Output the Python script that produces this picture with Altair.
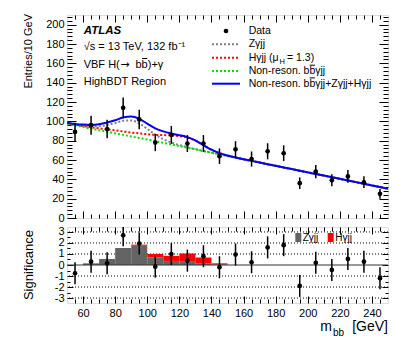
import altair as alt
import pandas as pd

FONT = "Liberation Sans"

# ---------------- data ----------------
bin_centers = [55, 65, 75, 85, 95, 105, 115, 125, 135, 145, 155, 165, 175, 185, 195, 205, 215, 225, 235, 245]
entries = [89, 96, 92, 114, 102, 78, 86, 77, 77, 64, 71, 61, 69, 67, 36, 48, 39, 43, 37, 25]
significance = [-0.75, 0.3, 0.15, 2.7, 1.95, -0.15, 1.0, 0.4, 0.8, -0.2, 0.95, 0.25, 1.6, 1.8, -1.9, 0.2, -0.45, 0.55, 0.3, -1.2]
significance_err = [1.0, 1.0, 1.0, 1.0, 1.0, 1.0, 1.0, 1.0, 1.0, 1.0, 1.0, 1.0, 1.0, 1.0, 1.0, 1.0, 1.0, 1.0, 1.0, 1.0]

curve_mass = [50, 55, 60, 65, 70, 75, 80, 85, 90, 95, 100, 105, 110, 115, 120, 125, 130, 135, 140, 145,
              150, 155, 160, 165, 170, 175, 180, 185, 190, 195, 200, 205, 210, 215, 220, 225, 230, 235, 240, 245, 250]
bkg_curve = [97.5, 95.8, 94.1, 92.4, 90.8, 89.2, 87.6, 86.0, 84.4, 82.8, 81.2, 79.5, 77.8, 76.1, 74.4, 72.7, 71.0, 69.3, 67.6, 65.9,
             64.2, 62.5, 60.8, 59.1, 57.4, 55.7, 54.0, 52.3, 50.6, 48.9, 47.2, 45.6, 43.9, 42.2, 40.5, 38.8, 37.1, 35.4, 33.7, 32.0, 30.3]
z_component = [0.5, 0.8, 1.5, 2.5, 4.2, 7.0, 10.5, 14.5, 16.5, 15.0, 11.0, 6.8, 3.8, 2.0, 1.0, 0.5, 0.25, 0.1, 0.05, 0.0,
               0.0, 0.0, 0.0, 0.0, 0.0, 0.0, 0.0, 0.0, 0.0, 0.0, 0.0, 0.0, 0.0, 0.0, 0.0, 0.0, 0.0, 0.0, 0.0, 0.0, 0.0]
h_component = [0.5, 0.7, 1.0, 1.5, 2.0, 2.5, 3.0, 3.5, 4.0, 4.7, 5.5, 6.5, 8.0, 9.3, 10.3, 10.5, 9.0, 6.0, 3.0, 1.2,
               0.4, 0.1, 0.0, 0.0, 0.0, 0.0, 0.0, 0.0, 0.0, 0.0, 0.0, 0.0, 0.0, 0.0, 0.0, 0.0, 0.0, 0.0, 0.0, 0.0, 0.0]

hist_low_edges = [60, 70, 80, 90, 100, 110, 120, 130, 140]
z_signif = [0.15, 0.55, 1.55, 1.75, 0.68, 0.37, 0.30, 0.12, 0.05]
h_signif = [0.0, 0.0, 0.0, 0.10, 0.32, 0.46, 0.75, 0.56, 0.10]

x_tick_labels = [60, 80, 100, 120, 140, 160, 180, 200, 220, 240]
y_tick_labels = [0, 20, 40, 60, 80, 100, 120, 140, 160, 180, 200]
sig_tick_labels = [-3, -2, -1, 0, 1, 2, 3]
sig_grid = [-3, -2, -1, 1, 2, 3]

# ---------------- tables ----------------
curves = pd.DataFrame({
    "mass": curve_mass,
    "bkg": bkg_curve,
    "bkgZ": [b + z for b, z in zip(bkg_curve, z_component)],
    "bkgH": [b + h for b, h in zip(bkg_curve, h_component)],
    "total": [b + z + h for b, z, h in zip(bkg_curve, z_component, h_component)],
})
pts = pd.DataFrame({"m": bin_centers, "n": entries})
pts["lo"] = pts["n"] - pts["n"] ** 0.5
pts["hi"] = pts["n"] + pts["n"] ** 0.5
sig = pd.DataFrame({"m": bin_centers, "s": significance, "e": significance_err})
sig["lo"] = sig["s"] - sig["e"]
sig["hi"] = sig["s"] + sig["e"]
hist = pd.DataFrame({"lo": hist_low_edges, "z": z_signif, "h": h_signif})
hist["hi"] = hist["lo"] + 10
hist["zh"] = hist["z"] + hist["h"]
grid = pd.DataFrame({"v": sig_grid})

W, H1, H2 = 321, 203, 76
xs = alt.Scale(domain=[50, 250], nice=False, zero=False)
ys1 = alt.Scale(domain=[0, 210], nice=False, zero=False)
ys2 = alt.Scale(domain=[-3.45, 3.45], nice=False, zero=False)

x_minor = [v for v in range(55, 250, 5) if v not in x_tick_labels]
y_minor = [v for v in range(4, 210, 4) if v not in y_tick_labels]
sig_minor = [-2.5, -1.5, -0.5, 0.5, 1.5, 2.5]


def tax(orient, values, size, labels=False, pad=3, expr=None):
    kw = dict(orient=orient, values=values, tickSize=size, offset=-size, domain=False, grid=False,
              labels=labels, title=None, ticks=True, tickColor="black", tickWidth=1)
    if labels:
        kw.update(labelFont=FONT, labelFontSize=11, labelColor="black", labelPadding=pad,
                  labelFlush=False, labelOverlap=False)
        if expr:
            kw["labelExpr"] = expr
    return alt.Axis(**kw)


ONE = alt.Data(values=[{}])


def txt(s, x, y, size=11, align="left", baseline="alphabetic", weight="normal", style="normal", angle=0, font=FONT):
    return alt.Chart(ONE).mark_text(text=s, align=align, baseline=baseline, font=font, fontSize=size,
                                    fontWeight=weight, fontStyle=style, angle=angle, color="black").encode(
        x=alt.value(x), y=alt.value(y))


def leg_line(x1, x2, y, color, dash=None, width=2):
    kw = dict(color=color, strokeWidth=width, strokeCap="butt")
    if dash:
        kw["strokeDash"] = dash
    return alt.Chart(ONE).mark_rule(**kw).encode(x=alt.value(x1), x2=alt.value(x2), y=alt.value(y))


def leg_box(x1, x2, y1, y2, color):
    return alt.Chart(ONE).mark_rect(color=color).encode(x=alt.value(x1), x2=alt.value(x2), y=alt.value(y1), y2=alt.value(y2))


def curve(field, color, dash, xa, ya, off=0):
    kw = dict(color=color, strokeWidth=2, interpolate="monotone", clip=True, strokeCap="butt")
    if dash:
        kw["strokeDash"] = dash
        kw["strokeDashOffset"] = off
    return alt.Chart(curves).mark_line(**kw).encode(
        x=alt.X("mass:Q", scale=xs, axis=xa), y=alt.Y(f"{field}:Q", scale=ys1, axis=ya))


# ---------------- upper panel ----------------
upper_layers = [
    curve("bkgZ", "#808080", [2, 2], tax("bottom", x_tick_labels, 7), tax("left", y_tick_labels, 9, labels=True)),
    curve("bkg", "#00e000", [2, 2], tax("bottom", x_minor, 4), tax("left", y_minor, 5)),
    curve("bkgH", "#ff0000", [2, 2], tax("top", x_tick_labels, 7), tax("right", y_tick_labels, 9), off=2),
    curve("total", "#0000ff", None, tax("top", x_minor, 4), tax("right", y_minor, 5)),
    alt.Chart(pts).mark_rule(color="black", strokeWidth=1.5, clip=True).encode(
        x=alt.X("m:Q", scale=xs, axis=None), y=alt.Y("lo:Q", scale=ys1, axis=None), y2="hi:Q"),
    alt.Chart(pts).mark_circle(color="black", size=22, opacity=1).encode(
        x=alt.X("m:Q", scale=xs, axis=None), y=alt.Y("n:Q", scale=ys1, axis=None)),
    # annotations
    txt("ATLAS", 16.7, 18.7, size=11.5, weight="bold", style="italic"),
    txt("\u221as = 13 TeV, 132 fb\u207b\u00b9", 16.7, 35.3),
    txt("VBF H(", 16.7, 52.7),
    txt("\u2192", 53.3, 52.7, size=11, font="DejaVu Sans"),
    txt("bb)+\u03b3", 68.5, 52.7),
    leg_line(75.1, 80.3, 43.5, "black", width=1),
    txt("HighBDT Region", 16.7, 69.7),
    # legend
    alt.Chart(ONE).mark_circle(color="black", size=22, opacity=1).encode(x=alt.value(159), y=alt.value(16)),
    leg_line(145, 173, 29.3, "#808080", [2, 2]),
    leg_line(145, 173, 42.7, "#ff0000", [2, 2]),
    leg_line(145, 173, 56, "#00e000", [2, 2]),
    leg_line(145, 173, 68.7, "#0000ff"),
    txt("Data", 181.7, 16, size=10.5, baseline="middle"),
    txt("Z\u03b3jj", 181.7, 29.3, size=10.5, baseline="middle"),
    txt("H\u03b3jj (\u03bc", 181.7, 42.7, size=10.5, baseline="middle"),
    txt("H", 212.5, 46.5, size=7.5, baseline="middle"),
    txt("= 1.3)", 220, 42.7, size=10.5, baseline="middle"),
    txt("Non-reson. bb\u03b3jj", 181.7, 56, size=10.5, baseline="middle"),
    leg_line(242.7, 247.9, 50.2, "black", width=1),
    txt("Non-reson. bb\u03b3jj+Z\u03b3jj+H\u03b3jj", 181.7, 68.7, size=10.5, baseline="middle"),
    leg_line(242.7, 247.9, 62.9, "black", width=1),
    # y title
    txt("Entries/10 GeV", -35, -1, size=11, align="right", angle=270),
]
upper = alt.layer(*upper_layers).resolve_scale(x="shared", y="shared").resolve_axis(
    x="independent", y="independent").properties(width=W, height=H1)

# ---------------- lower panel ----------------
minus_fix = "toString(datum.value)"
lower_layers = [
    alt.Chart(grid).mark_rule(color="black", strokeWidth=1, strokeDash=[1, 2]).encode(
        y=alt.Y("v:Q", scale=ys2, axis=None)),
    alt.Chart(hist).mark_rect(color="#646464").encode(
        x=alt.X("lo:Q", scale=xs, axis=tax("bottom", x_tick_labels, 7, labels=True, pad=4)), x2="hi:Q",
        y=alt.Y("z:Q", scale=ys2, axis=tax("left", sig_tick_labels, 6, labels=True, pad=3, expr=minus_fix)),
        y2=alt.datum(0)),
    alt.Chart(hist).mark_rect(color="#ff0000").encode(
        x=alt.X("lo:Q", scale=xs, axis=tax("bottom", x_minor, 4)), x2="hi:Q",
        y=alt.Y("zh:Q", scale=ys2, axis=tax("left", sig_minor, 3)), y2="z:Q"),
    alt.Chart(ONE).mark_rule(color="#333333", strokeWidth=1).encode(
        y=alt.Y(datum=0, scale=ys2, axis=None)),
    alt.Chart(sig).mark_rule(color="black", strokeWidth=1.5, clip=True).encode(
        x=alt.X("m:Q", scale=xs, axis=tax("top", x_tick_labels, 7)),
        y=alt.Y("lo:Q", scale=ys2, axis=tax("right", sig_tick_labels, 6)), y2="hi:Q"),
    alt.Chart(sig).mark_circle(color="black", size=22, opacity=1).encode(
        x=alt.X("m:Q", scale=xs, axis=tax("top", x_minor, 4)),
        y=alt.Y("s:Q", scale=ys2, axis=tax("right", sig_minor, 3))),
    leg_box(228.3, 234.3, 6, 15, "#646464"),
    txt("Z\u03b3jj", 235.7, 10.5, size=10, baseline="middle"),
    leg_box(260.7, 266.7, 6, 15, "#ff0000"),
    txt("H\u03b3jj", 268.3, 10.5, size=10, baseline="middle"),
    txt("Significance", -34.5, 38, size=13, align="center", angle=270),
    txt("m", 265, 104, size=14, align="right"),
    txt("bb", 266, 109, size=10),
    txt("[GeV]", 321, 104, size=14, align="right"),
]
lower = alt.layer(*lower_layers).resolve_scale(x="shared", y="shared").resolve_axis(
    x="independent", y="independent").properties(width=W, height=H2)

chart = alt.vconcat(upper, lower, spacing=9, bounds="flush").properties(
    padding={"left": 14, "top": 5, "right": 5, "bottom": 5}
).configure_view(stroke="black", strokeWidth=1).configure(font=FONT, background="white")

chart.save("out.html", embed_options={"renderer": "svg", "actions": False})
